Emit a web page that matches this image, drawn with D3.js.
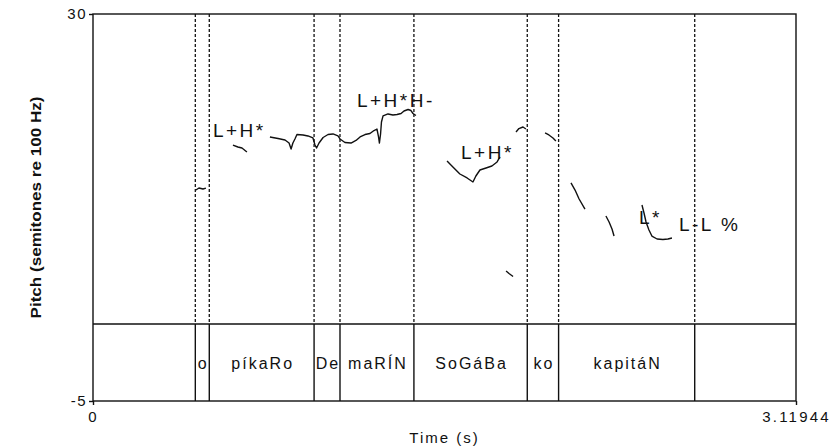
<!DOCTYPE html>
<html>
<head>
<meta charset="utf-8">
<script src="https://cdn.jsdelivr.net/npm/d3@7"></script>
<style>
  html, body { margin: 0; padding: 0; background: #fff; }
  svg { display: block; font-family: "Liberation Sans", Arial, sans-serif; }
</style>
</head>
<body>
<svg id="chart" width="830" height="446"></svg>
<script>
// ---------------- DATA ----------------
const timeDomain = [0, 3.11944];
const pitchDomain = [-5, 30];
const yTickLabels = ["30", "-5"];
const xTickLabels = ["0", "3.11944"];
const xAxisTitle = "Time (s)";
const yAxisTitle = "Pitch (semitones re 100 Hz)";

// interval boundaries (s) of the word tier
const tierBoundaries = [0.454, 0.516, 0.981, 1.096, 1.424, 1.927, 2.066, 2.670];
// word labels: [start, end, text]
const tierWords = [
  [0.454, 0.516, "o"],
  [0.516, 0.981, "píkaRo"],
  [0.981, 1.096, "De"],
  [1.096, 1.424, "maRÍN"],
  [1.424, 1.927, "SoGáBa"],
  [1.927, 2.066, "ko"],
  [2.066, 2.670, "kapitáN"]
];

// pitch contour pieces: [time (s), semitones re 100 Hz]
const pitchSeg1 = [[0.457,14.08],[0.470,14.26],[0.488,14.17],[0.501,14.26]];
const pitchSeg2 = [[0.621,18.15],[0.643,17.97],[0.661,17.88],[0.683,17.52]];
const pitchSeg3 = [
  [0.785,18.88],[0.821,18.74],[0.852,18.60],[0.870,18.33],[0.879,17.79],[0.887,18.33],
  [0.896,18.70],[0.905,19.10],[0.932,19.06],[0.954,18.97],[0.976,18.79],[0.985,18.15],
  [0.992,17.88],[1.003,18.33],[1.021,18.83],[1.043,19.10],[1.065,19.15],[1.087,18.97],
  [1.096,18.70],[1.118,18.38],[1.145,18.33],[1.167,18.56],[1.185,18.88],[1.207,19.10],
  [1.229,19.19],[1.247,19.46],[1.260,19.60],[1.267,18.88],[1.271,18.33],[1.276,19.15],
  [1.280,20.23],[1.287,20.78],[1.309,20.96],[1.331,20.87],[1.349,20.91],[1.367,21.00],
  [1.380,21.23],[1.398,21.36],[1.411,21.27],[1.420,21.00],[1.433,20.82]
];
const pitchSeg4 = [[1.571,16.71],[1.597,16.16],[1.628,15.53],[1.660,15.17],[1.686,14.81],
  [1.699,15.35],[1.717,15.89],[1.744,16.07],[1.770,16.25],[1.793,16.62],[1.806,17.07]];
const pitchSeg5 = [[1.833,6.76],[1.846,6.53],[1.864,6.26]];
const pitchSeg6 = [[1.877,19.33],[1.890,19.64],[1.908,19.78],[1.921,19.60]];
const pitchSeg7 = [[2.006,19.24],[2.023,19.06],[2.041,18.79],[2.054,18.51]];
const pitchSeg8 = [[2.121,14.72],[2.139,14.08],[2.157,13.27],[2.183,12.36]];
const pitchSeg9 = [[2.276,11.73],[2.290,11.19],[2.303,10.56],[2.312,9.92]];
const pitchSeg10 = [[2.436,12.73],[2.445,12.00],[2.454,11.19],[2.467,10.46],[2.480,9.92],
  [2.503,9.65],[2.529,9.61],[2.551,9.65],[2.569,9.74]];
const pitchSegments = [pitchSeg1, pitchSeg2, pitchSeg3, pitchSeg4, pitchSeg5,
  pitchSeg6, pitchSeg7, pitchSeg8, pitchSeg9, pitchSeg10];

// tone annotations: [label, time (s), semitones]
const toneLabels = [
  ["L+H*", 0.532, 18.88],
  ["L+H*H-", 1.171, 21.59],
  ["L+H*", 1.633, 16.89],
  ["L*", 2.423, 11.01],
  ["L-L %", 2.600, 10.37]
];

// ---------------- LAYOUT ----------------
const mLeft = 93, mRight = 796, mTop = 14, mBottom = 401;
const tierTop = 324;
const ink = "#111";

const svg = d3.select("#chart");
const x = d3.scaleLinear().domain(timeDomain).range([mLeft, mRight]);
const y = d3.scaleLinear().domain(pitchDomain).range([mBottom, mTop]);

// dotted boundary lines in the pitch area
svg.append("g").selectAll("line").data(tierBoundaries).join("line")
  .attr("x1", d => x(d)).attr("x2", d => x(d))
  .attr("y1", mTop).attr("y2", tierTop)
  .attr("stroke", ink).attr("stroke-width", 1.3)
  .attr("stroke-dasharray", "3,2");

// solid boundary lines in the tier
svg.append("g").selectAll("line").data(tierBoundaries).join("line")
  .attr("x1", d => x(d)).attr("x2", d => x(d))
  .attr("y1", tierTop).attr("y2", mBottom)
  .attr("stroke", ink).attr("stroke-width", 1.4);

// frame
svg.append("rect").attr("x", mLeft).attr("y", mTop)
  .attr("width", mRight - mLeft).attr("height", mBottom - mTop)
  .attr("fill", "none").attr("stroke", ink).attr("stroke-width", 1.4);
svg.append("line").attr("x1", mLeft).attr("x2", mRight)
  .attr("y1", tierTop).attr("y2", tierTop)
  .attr("stroke", ink).attr("stroke-width", 1.4);

// axes using d3 axis
const yAxis = d3.axisLeft(y).tickValues([30, -5])
  .tickFormat((d, i) => yTickLabels[i]).tickSize(4).tickPadding(2);
const gy = svg.append("g").attr("transform", `translate(${mLeft},0)`).call(yAxis);
gy.select(".domain").remove();
gy.selectAll("line").attr("stroke", ink).attr("stroke-width", 1.4);
gy.selectAll("text").attr("font-size", 15).attr("fill", ink)
  .attr("font-family", "Liberation Sans, Arial, sans-serif")
  .style("letter-spacing", "1.5px");

const xAxis = d3.axisBottom(x).tickValues(timeDomain)
  .tickFormat((d, i) => xTickLabels[i]).tickSize(4).tickPadding(6);
const gx = svg.append("g").attr("transform", `translate(0,${mBottom})`).call(xAxis);
gx.select(".domain").remove();
gx.selectAll("line").attr("stroke", ink).attr("stroke-width", 1.4);
gx.selectAll("text").attr("font-size", 15).attr("fill", ink)
  .attr("font-family", "Liberation Sans, Arial, sans-serif")
  .style("letter-spacing", "2.2px");

// axis titles
svg.append("text").attr("x", (mLeft + mRight) / 2).attr("y", 443)
  .attr("text-anchor", "middle").attr("font-size", 15).attr("fill", ink)
  .style("letter-spacing", "2px").text(xAxisTitle);
svg.append("text")
  .attr("transform", `translate(41,${(mTop + mBottom) / 2}) rotate(-90)`)
  .attr("text-anchor", "middle").attr("font-size", 15).attr("font-weight", "bold")
  .attr("fill", ink).attr("textLength", 222).attr("lengthAdjust", "spacingAndGlyphs")
  .text(yAxisTitle);

// tier words
svg.append("g").selectAll("text").data(tierWords).join("text")
  .attr("x", d => (x(d[0]) + x(d[1])) / 2 + 1)
  .attr("y", (tierTop + mBottom) / 2 + 6)
  .attr("text-anchor", "middle").attr("font-size", 16).attr("fill", ink)
  .style("letter-spacing", "2px")
  .text(d => d[2]);

// pitch contour
const line = d3.line().x(d => x(d[0])).y(d => y(d[1]));
svg.append("g").selectAll("path").data(pitchSegments).join("path")
  .attr("d", line).attr("fill", "none").attr("stroke", ink)
  .attr("stroke-width", 1.4).attr("stroke-linejoin", "round");

// tone labels
svg.append("g").selectAll("text").data(toneLabels).join("text")
  .attr("x", d => x(d[1])).attr("y", d => y(d[2]))
  .attr("font-size", 19).attr("fill", ink)
  .style("letter-spacing", "2.5px")
  .text(d => d[0]);
</script>
</body>
</html>
